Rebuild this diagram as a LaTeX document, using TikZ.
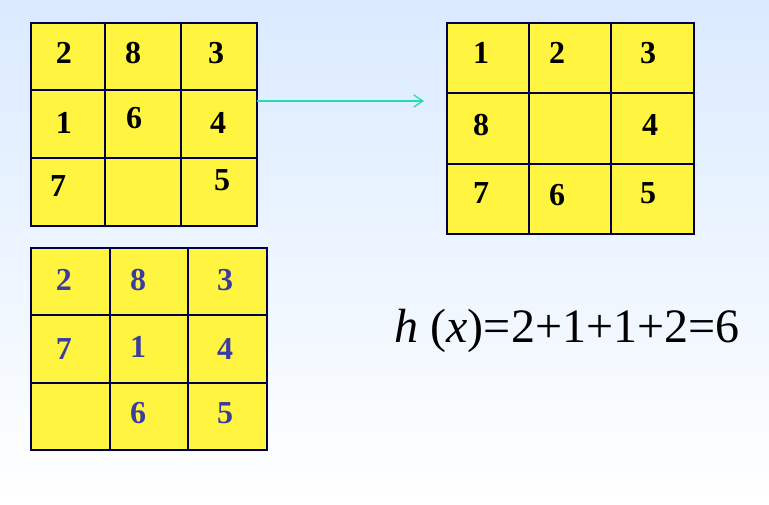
\documentclass[tikz,border=0pt]{standalone}
\usetikzlibrary{arrows.meta}
\usepackage{fontspec}
\setmainfont{Liberation Serif}
\definecolor{topbg}{RGB}{218,234,255}
\definecolor{arr}{RGB}{40,220,170}
\definecolor{bl}{RGB}{60,60,160}
\begin{document}
\begin{tikzpicture}[x=1pt,y=-1pt,
  cell/.style={fill=yellow!75!white,draw=black!70!blue,line width=1.2pt},
  num/.style={font=\fontsize{32}{34}\selectfont\bfseries},
  bnum/.style={num,text=bl}]
\shade[top color=topbg,bottom color=white] (0,0) rectangle (769,505);
\useasboundingbox (0,0) rectangle (769,505);
% grid 1
\draw[cell] (31,23) rectangle (257,226);
\draw[black!70!blue,line width=1.2pt] (105,23)--(105,226) (181,23)--(181,226) (31,90)--(257,90) (31,158)--(257,158);
\node[num] (a1) at (64,53) {2}; \node[num] (a2) at (133,53) {8}; \node[num] (a3) at (216,53) {3};
\node[num] (a4) at (64,123) {1}; \node[num] (a5) at (134,118) {6}; \node[num] (a6) at (218,123) {4};
\node[num] (a7) at (58,186) {7}; \node[num] (a8) at (222,180) {5};
% grid 2
\draw[cell] (447,23) rectangle (694,234);
\draw[black!70!blue,line width=1.2pt] (529,23)--(529,234) (611,23)--(611,234) (447,93)--(694,93) (447,164)--(694,164);
\node[num] (b1) at (481,53) {1}; \node[num] (b2) at (557,53) {2}; \node[num] (b3) at (648,53) {3};
\node[num] (b4) at (481,125) {8}; \node[num] (b5) at (650,125) {4};
\node[num] (b6) at (481,193) {7}; \node[num] (b7) at (557,195) {6}; \node[num] (b8) at (648,193) {5};
% grid 3
\draw[cell] (31,248) rectangle (267,450);
\draw[black!70!blue,line width=1.2pt] (110,248)--(110,450) (188,248)--(188,450) (31,315)--(267,315) (31,383)--(267,383);
\node[bnum] (c1) at (64,280) {2}; \node[bnum] (c2) at (138,280) {8}; \node[bnum] (c3) at (225,280) {3};
\node[bnum] (c4) at (64,349) {7}; \node[bnum] (c5) at (138,347) {1}; \node[bnum] (c6) at (225,349) {4};
\node[bnum] (c7) at (138,413) {6}; \node[bnum] (c8) at (225,413) {5};
% arrow
\coordinate (s) at (257,101); \coordinate (e) at (424,101);
\draw[-{Straight Barb[length=9pt,width=12pt]},color=arr,line width=1.3pt] (s)--(e);
\node[font=\fontsize{48}{50}\selectfont] (f) at (567,331) {\textit{h} (\textit{x})=2+1+1+2=6};
\end{tikzpicture}
\end{document}
